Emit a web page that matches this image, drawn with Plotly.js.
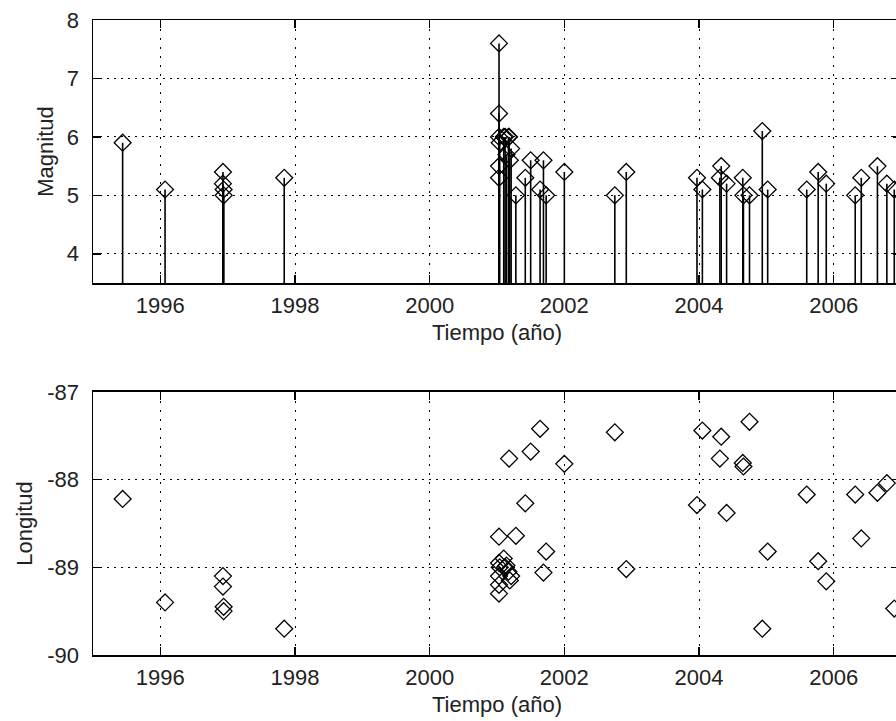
<!DOCTYPE html>
<html>
<head>
<meta charset="utf-8">
<script src="https://cdn.plot.ly/plotly-3.0.1.min.js"></script>
<style>
html,body{margin:0;padding:0;background:#fff;overflow:hidden;width:896px;height:721px;}
#chart{width:910px;height:721px;}
</style>
</head>
<body>
<div id="chart"></div>
<script>
// Event times (decimal years)
const tiempo = [
  1995.44, 1996.07, 1996.93, 1996.93, 1996.94, 1996.94, 1997.84,
  2001.03, 2001.03, 2001.03, 2001.03, 2001.03, 2001.04, 2001.10, 2001.12,
  2001.14, 2001.17, 2001.18, 2001.19, 2001.21, 2001.28, 2001.42, 2001.50,
  2001.64, 2001.69, 2001.73, 2002.00, 2002.75, 2002.92,
  2003.97, 2004.05, 2004.31, 2004.33, 2004.41, 2004.65, 2004.66, 2004.75,
  2004.94, 2005.02, 2005.60, 2005.77, 2005.89, 2006.32, 2006.41, 2006.65,
  2006.79, 2006.90
];
// Magnitudes
const magnitud = [
  5.9, 5.1, 5.4, 5.2, 5.1, 5.0, 5.3,
  7.6, 6.4, 6.0, 5.5, 5.3, 5.9, 6.0, 6.0,
  5.7, 6.0, 6.0, 5.6, 5.8, 5.0, 5.3, 5.6,
  5.1, 5.6, 5.0, 5.4, 5.0, 5.4,
  5.3, 5.1, 5.3, 5.5, 5.2, 5.3, 5.0, 5.0,
  6.1, 5.1, 5.1, 5.4, 5.2, 5.0, 5.3, 5.5,
  5.2, 5.1
];
// Longitudes
const longitud = [
  -88.22, -89.40, -89.10, -89.22, -89.45, -89.50, -89.70,
  -88.65, -88.95, -89.10, -89.20, -89.30, -89.00, -88.90, -89.00,
  -88.98, -89.05, -87.76, -89.15, -89.10, -88.64, -88.27, -87.68,
  -87.42, -89.06, -88.82, -87.82, -87.46, -89.02,
  -88.29, -87.44, -87.76, -87.51, -88.38, -87.81, -87.85, -87.34,
  -89.70, -88.82, -88.17, -88.93, -89.16, -88.17, -88.67, -88.15,
  -88.04, -89.47
];
const xTicks = [1996, 1998, 2000, 2002, 2004, 2006];
const magTicks = [4, 5, 6, 7, 8];
const lonTicks = [-90, -89, -88, -87];
const xRange = [1995, 2007];
const magRange = [3.5, 8];
const lonRange = [-90, -87];

// stem segments built from data
const stemX = [], stemY = [];
tiempo.forEach((t, i) => {
  stemX.push(t, t, null);
  stemY.push(magRange[0], magnitud[i], null);
});

const font = {family: 'Liberation Sans, Arial, sans-serif', size: 22, color: '#222'};
const markerStyle = {symbol: 'diamond-open', size: 13, color: '#000', line: {color: '#000', width: 1.3}};

const traces = [
  {x: stemX, y: stemY, type: 'scatter', mode: 'lines', line: {color: '#000', width: 1.6},
   xaxis: 'x', yaxis: 'y', hoverinfo: 'skip', showlegend: false},
  {x: tiempo, y: magnitud, type: 'scatter', mode: 'markers', marker: markerStyle,
   xaxis: 'x', yaxis: 'y', showlegend: false},
  {x: tiempo, y: longitud, type: 'scatter', mode: 'markers', marker: markerStyle,
   xaxis: 'x2', yaxis: 'y2', showlegend: false}
];

function xAxis(anchor) {
  return {
    range: xRange, tickvals: xTicks, ticktext: xTicks.map(String),
    showline: true, linecolor: '#000', linewidth: 1.5, mirror: 'ticks',
    ticks: 'inside', ticklen: 8, tickcolor: '#000', tickwidth: 1.5,
    showgrid: true, gridcolor: '#000', gridwidth: 1, griddash: '2px,7px',
    zeroline: false, anchor: anchor, tickfont: font, ticklabelstandoff: 2,
    title: {text: 'Tiempo (año)', font: font, standoff: 7}
  };
}
function yAxis(anchor, range, ticks, title, domain, standoff) {
  return {
    range: range, tickvals: ticks, ticktext: ticks.map(String), domain: domain,
    showline: true, linecolor: '#000', linewidth: 1.5, mirror: 'ticks',
    ticks: 'inside', ticklen: 8, tickcolor: '#000', tickwidth: 1.5,
    showgrid: true, gridcolor: '#000', gridwidth: 1, griddash: '2px,5px',
    zeroline: false, anchor: anchor, tickfont: font, ticklabelstandoff: 8,
    title: {text: title, font: font, standoff: standoff}
  };
}

const layout = {
  width: 910, height: 721,
  margin: {l: 93, r: 9, t: 20, b: 66},
  paper_bgcolor: '#fff', plot_bgcolor: '#fff',
  showlegend: false,
  xaxis: xAxis('y'),
  yaxis: yAxis('x', magRange, magTicks, 'Magnitud', [0.5858, 1], 7),
  xaxis2: xAxis('y2'),
  yaxis2: yAxis('x2', lonRange, lonTicks, 'Longitud', [0, 0.4142], 8)
};

Plotly.newPlot('chart', traces, layout, {displayModeBar: false, staticPlot: true});
</script>
</body>
</html>
